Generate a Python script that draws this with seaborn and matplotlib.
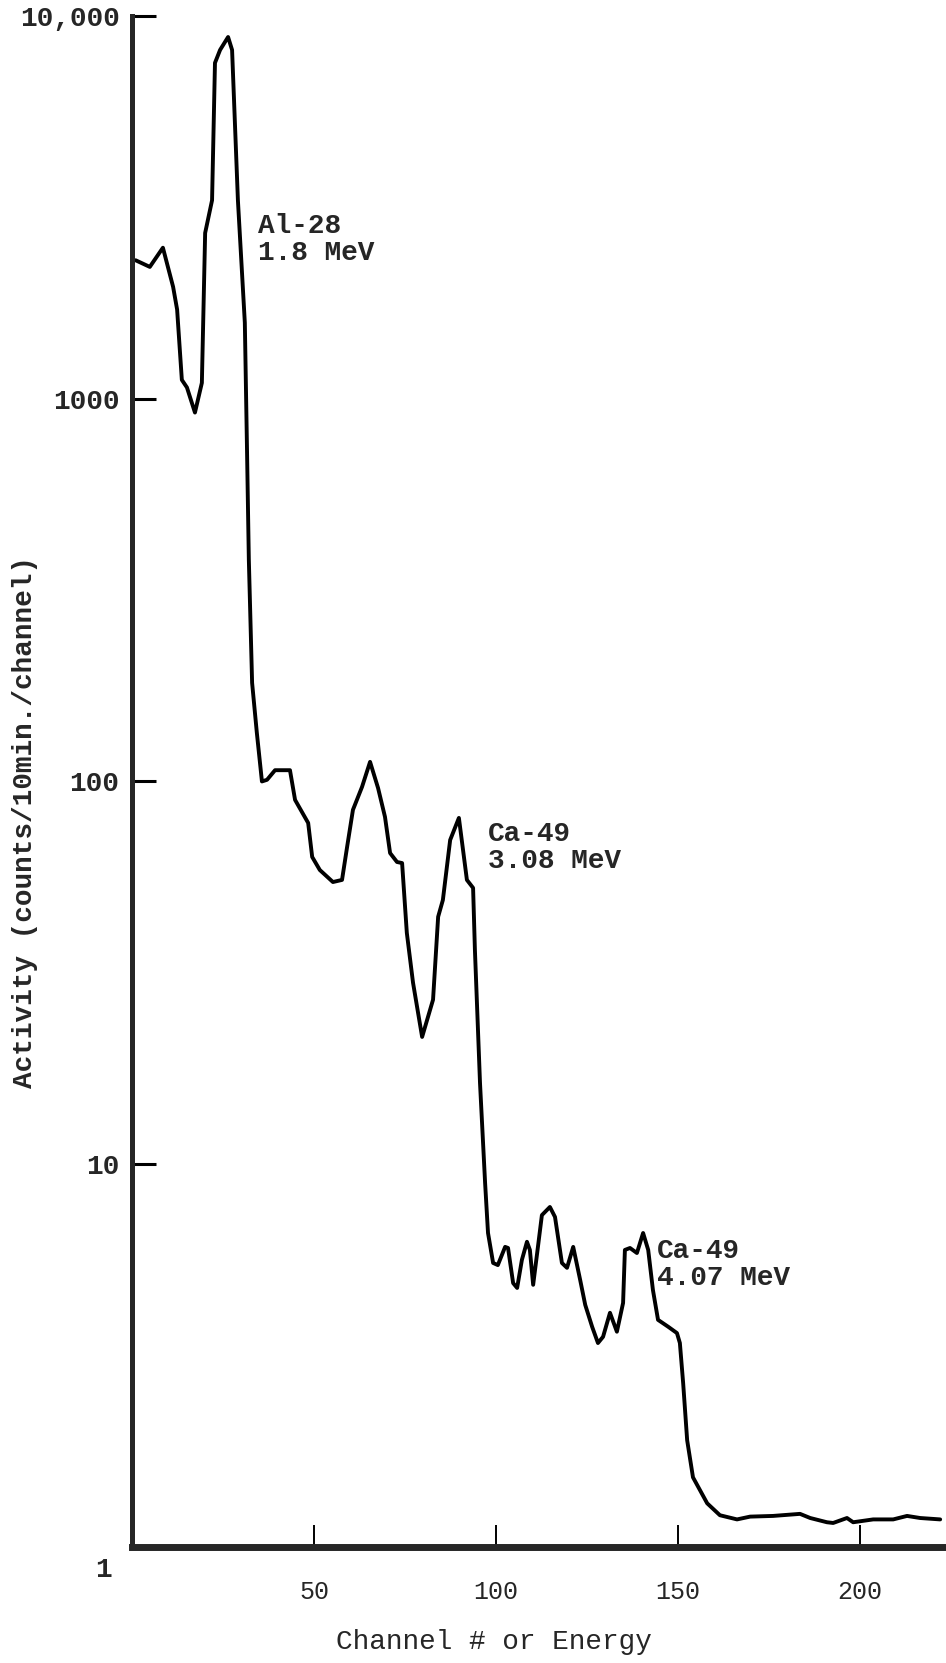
import numpy as np
import pandas as pd
import matplotlib
matplotlib.use("Agg")
import matplotlib.pyplot as plt
import matplotlib.ticker as mticker
import matplotlib.transforms as mtransforms
import seaborn as sns

# gamma spectrum
channel = [1, 4.9, 8.5, 11.3, 12.4, 13.7, 15.1, 17.3, 19.2, 20.1, 22.0, 22.8,
           24.2, 26.4, 27.5, 29.1, 31.0, 31.6, 32.1, 33.0, 34.3, 35.7, 37.1,
           39.3, 43.4, 44.8, 48.4, 49.5, 51.6, 55.2, 57.7, 59.1, 60.7, 63.2,
           65.4, 67.6, 69.5, 70.9, 72.8, 74.2, 75.5, 77.2, 79.7, 82.7, 84.1,
           85.4, 87.4, 89.8, 92.0, 93.7, 94.2, 95.6, 97.0, 97.8, 99.2, 100.5,
           102.5, 103.3, 104.7, 105.8, 107.1, 108.5, 109.3, 110.2, 111.3,
           112.6, 114.8, 116.2, 118.1, 119.5, 121.2, 123.1, 124.5, 126.4,
           128.0, 129.4, 131.3, 133.2, 134.9, 135.4, 136.8, 138.7, 140.4,
           141.8, 143.1, 144.5, 147.3, 149.7, 150.5, 151.4, 152.5, 154.1,
           158.0, 161.5, 166.2, 169.8, 176.1, 183.5, 186.3, 190.9, 192.6,
           196.4, 198.1, 203.6, 209.1, 212.9, 216.5, 222.0]
counts = [2300, 2210, 2480, 1960, 1710, 1120, 1070, 920, 1100, 2710, 3300, 7540,
          8150, 8810, 8150, 3300, 1580, 735, 380, 181, 134, 100, 101,
          107, 107, 89.5, 77.9, 63.5, 58.7, 54.6, 55.3, 67.5, 84.3, 96.8,
          112.5, 96.1, 80.8, 65.0, 61.6, 61.2, 40.2, 29.8, 21.5, 26.9, 44.3,
          49.0, 70.3, 80.3, 55.3, 52.7, 36.3, 16.3, 8.93, 6.61, 5.52, 5.45,
          6.08, 6.04, 4.89, 4.75, 5.62, 6.27, 5.97, 4.84, 5.86,
          7.36, 7.73, 7.28, 5.52, 5.36, 6.08, 4.99, 4.29, 3.76,
          3.41, 3.54, 4.09, 3.65, 4.34, 5.97, 6.04, 5.86, 6.61,
          5.97, 4.69, 3.92, 3.76, 3.62, 3.41, 2.68, 1.90, 1.52,
          1.30, 1.21, 1.18, 1.20, 1.205, 1.22, 1.19, 1.16, 1.155,
          1.19, 1.16, 1.18, 1.18, 1.205, 1.19, 1.18]

y_ticks = [1, 10, 100, 1000, 10000]
y_ticklabels = ["1", "10", "100", "1000", "10,000"]
x_ticks = [50, 100, 150, 200]

peak_labels = ["Al-28\n1.8 MeV", "Ca-49\n3.08 MeV", "Ca-49\n4.07 MeV"]
peak_x = [34.6, 97.8, 144.2]
peak_y = [3055, 78.8, 6.42]

MONO = ["Liberation Mono", "DejaVu Sans Mono"]

sns.set_style("white")
plt.rcParams["font.family"] = MONO

df = pd.DataFrame({"channel": channel, "counts": counts})

fig = plt.figure(figsize=(9.46, 16.63), dpi=100)
ax = fig.add_axes([0.1395, 0.0698, 0.8605, 0.9206])

sns.lineplot(data=df, x="channel", y="counts", ax=ax, color="black",
             linewidth=2.8, sort=False, estimator=None)
ax.lines[0].set_solid_joinstyle("round")

ax.set_yscale("log")
ax.set_xlim(0, 223.6)
ax.set_ylim(1, 10000)
ax.yaxis.set_major_locator(mticker.FixedLocator(y_ticks))
ax.yaxis.set_major_formatter(mticker.FixedFormatter(y_ticklabels))
ax.yaxis.set_minor_locator(mticker.NullLocator())
ax.set_xticks(x_ticks)
ax.set_xticklabels([str(t) for t in x_ticks])

for side in ["top", "right"]:
    ax.spines[side].set_visible(False)
ax.spines["left"].set_linewidth(3.6)
ax.spines["bottom"].set_linewidth(5)

ax.tick_params(axis="y", left=True, direction="in", length=17, width=2.2,
               pad=9, labelsize=20, color="black")
ax.tick_params(axis="x", bottom=True, direction="in", length=16, width=1.4,
               pad=24, labelsize=18, color="black")
for lab in ax.get_yticklabels():
    lab.set_fontweight("bold")
# the "1" sits a little lower and further out
one = ax.get_yticklabels()[0]
one.set_transform(one.get_transform() +
                  mtransforms.ScaledTranslation(-0.08, -0.2, fig.dpi_scale_trans))

ax.set_xlabel("")
ax.set_ylabel("")

for txt, px, py in zip(peak_labels, peak_x, peak_y):
    ax.text(px, py, txt, fontsize=20, ha="left", va="top", linespacing=1.05,
            fontweight="bold")

fig.text(0.026, 0.506, "Activity (counts/10min./channel)", rotation=90,
         ha="center", va="center", fontsize=20, fontweight="bold")
fig.text(0.522, 0.0126, "Channel # or Energy", ha="center", va="center",
         fontsize=20)

fig.savefig("out.png", dpi=100, facecolor="white")
